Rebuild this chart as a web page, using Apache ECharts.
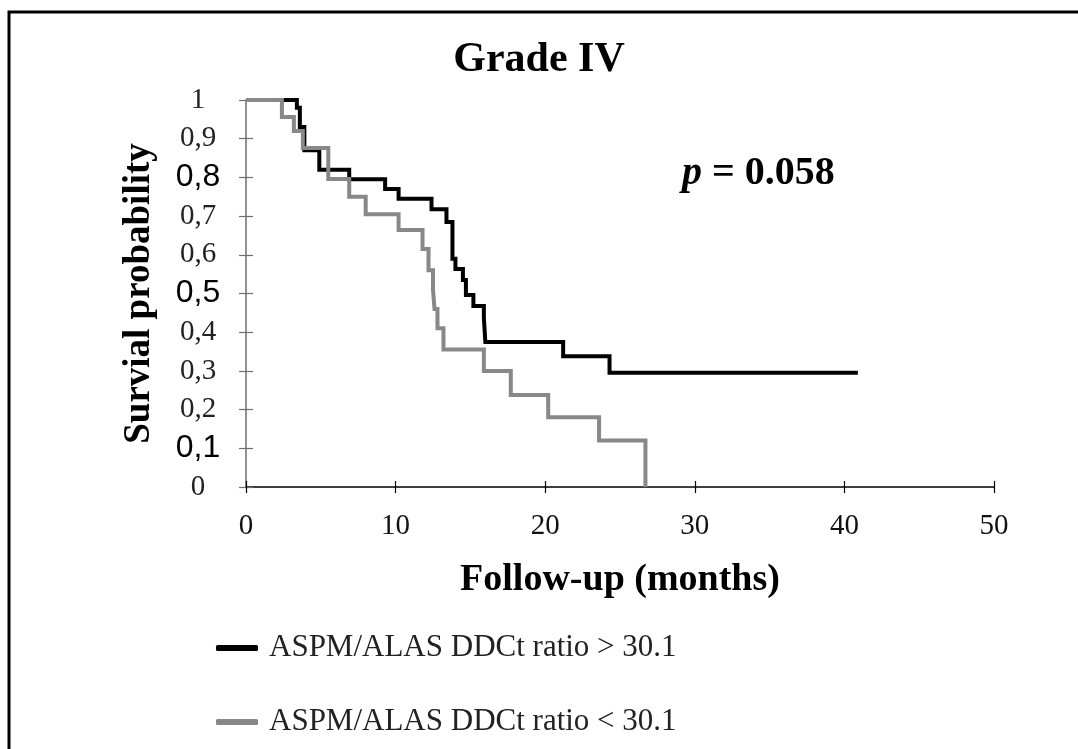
<!DOCTYPE html>
<html><head><meta charset="utf-8">
<script src="https://cdn.jsdelivr.net/npm/echarts@6/dist/echarts.min.js"></script>
<style>html,body{margin:0;padding:0;background:#fff}#c{width:1078px;height:749px}</style>
</head><body><div id="c"></div>
<script>
// Kaplan-Meier step data (time in months, survival probability)
const highTime = [0, 3.4, 3.6, 3.9, 4.9, 6.9, 9.3, 10.2, 12.4, 13.4, 13.8, 14.0, 14.5, 14.7, 15.2, 15.9, 16.0, 21.2, 24.3, 40.9];
const highSurv = [1, 0.98, 0.93, 0.87, 0.82, 0.795, 0.77, 0.745, 0.718, 0.685, 0.59, 0.563, 0.535, 0.496, 0.468, 0.437, 0.375, 0.338, 0.295, 0.295];
const lowTime = [0, 2.4, 3.2, 3.8, 5.5, 6.9, 8.0, 10.2, 11.8, 12.2, 12.5, 12.6, 12.8, 13.2, 15.9, 17.7, 20.2, 23.6, 26.7];
const lowSurv = [1, 0.956, 0.92, 0.876, 0.796, 0.75, 0.705, 0.664, 0.615, 0.56, 0.51, 0.46, 0.41, 0.355, 0.30, 0.238, 0.18, 0.12, 0];
const seriesNames = ['ASPM/ALAS DDCt ratio > 30.1', 'ASPM/ALAS DDCt ratio < 30.1'];
const yTickLabels = ['0', '0,1', '0,2', '0,3', '0,4', '0,5', '0,6', '0,7', '0,8', '0,9', '1'];
const sansTickLabels = ['0,1', '0,5', '0,8'];
const titleText = 'Grade IV';
const xName = 'Follow-up (months)';
const yName = 'Survial probability';
const pLabel = 'p';
const pValue = ' = 0.058';

const SERIF = '"Liberation Serif", "DejaVu Serif", serif';
const SANS = '"Liberation Sans", Arial, sans-serif';

const chart = echarts.init(document.getElementById('c'), null, {renderer: 'canvas'});
const yFmt = v => {
  const idx = Math.round(v * 10);
  const lab = yTickLabels[idx];
  if (lab === undefined) return '';
  return sansTickLabels.includes(lab) ? '{a|' + lab + '}' : '{s|' + lab + '}';
};
const axisCommonX = {type: 'value', min: 0, max: 50, interval: 10, splitLine: {show: false}};
const axisCommonY = {type: 'value', min: 0, max: 1, interval: 0.1, splitLine: {show: false}};

chart.setOption({
  animation: false,
  backgroundColor: '#fff',
  title: {
    text: titleText, left: 'center', top: 34,
    textStyle: {fontFamily: SERIF, fontWeight: 'bold', fontSize: 42, color: '#000'}
  },
  grid: {left: 246, right: 84, top: 100, bottom: 262, containLabel: false},
  xAxis: [
    Object.assign({}, axisCommonX, {
      position: 'bottom',
      axisLine: {lineStyle: {color: '#000', width: 1.5}},
      axisTick: {length: 6, lineStyle: {color: '#000', width: 1.2}},
      axisLabel: {fontFamily: SERIF, fontSize: 29, color: '#111', margin: 25},
      name: xName, nameLocation: 'middle', nameGap: 74,
      nameTextStyle: {fontFamily: SERIF, fontWeight: 'bold', fontSize: 38, color: '#000'}
    }),
    Object.assign({}, axisCommonX, {
      position: 'bottom', offset: 0,
      axisLine: {show: false},
      axisTick: {inside: true, length: 6, lineStyle: {color: '#000', width: 1.2}},
      axisLabel: {show: false}
    })
  ],
  yAxis: [
    Object.assign({}, axisCommonY, {
      position: 'left',
      axisLine: {lineStyle: {color: '#6e6e6e', width: 1.5}},
      axisTick: {length: 7, lineStyle: {color: '#6e6e6e', width: 1.2}},
      axisLabel: {
        formatter: yFmt, align: 'center', margin: 48,
        rich: {
          s: {fontFamily: SERIF, fontSize: 29, color: '#222'},
          a: {fontFamily: SANS, fontSize: 32, color: '#000'}
        }
      },
      name: yName, nameLocation: 'middle', nameGap: 88,
      nameTextStyle: {fontFamily: SERIF, fontWeight: 'bold', fontSize: 37, color: '#000'}
    }),
    Object.assign({}, axisCommonY, {
      position: 'left', offset: 0,
      axisLine: {show: false},
      axisTick: {inside: true, length: 7, lineStyle: {color: '#6e6e6e', width: 1.2}},
      axisLabel: {show: false}
    })
  ],
  legend: {
    orient: 'vertical', left: 211, top: 627,
    itemWidth: 42, itemHeight: 6, itemGap: 42,
    textStyle: {fontFamily: SERIF, fontSize: 31, color: '#222', padding: [0, 0, 0, 6], lineHeight: 32},
    data: [
      {name: seriesNames[0], icon: 'roundRect'},
      {name: seriesNames[1], icon: 'roundRect'}
    ]
  },
  series: [
    {
      name: seriesNames[0], type: 'line', step: 'end', showSymbol: false,
      xAxisIndex: 0, yAxisIndex: 0,
      color: '#000',
      lineStyle: {color: '#000', width: 4, join: 'miter'},
      data: highTime.map((t, i) => [t, highSurv[i]])
    },
    {
      name: seriesNames[1], type: 'line', step: 'end', showSymbol: false,
      xAxisIndex: 0, yAxisIndex: 0,
      color: '#888',
      lineStyle: {color: '#888', width: 4, join: 'miter'},
      data: lowTime.map((t, i) => [t, lowSurv[i]])
    }
  ],
  graphic: [
    {
      type: 'polyline', silent: true,
      shape: {points: [[9, 800], [9, 12], [1200, 12]]},
      style: {fill: 'none', stroke: '#000', lineWidth: 3}
    },
    {
      type: 'text', left: 682, top: 154,
      style: {
        text: '{i|' + pLabel + '}{b|' + pValue + '}',
        rich: {
          i: {fontFamily: SERIF, fontStyle: 'italic', fontWeight: 'bold', fontSize: 40, fill: '#000'},
          b: {fontFamily: SERIF, fontWeight: 'bold', fontSize: 40, fill: '#000'}
        }
      }
    }
  ]
});
</script></body></html>
